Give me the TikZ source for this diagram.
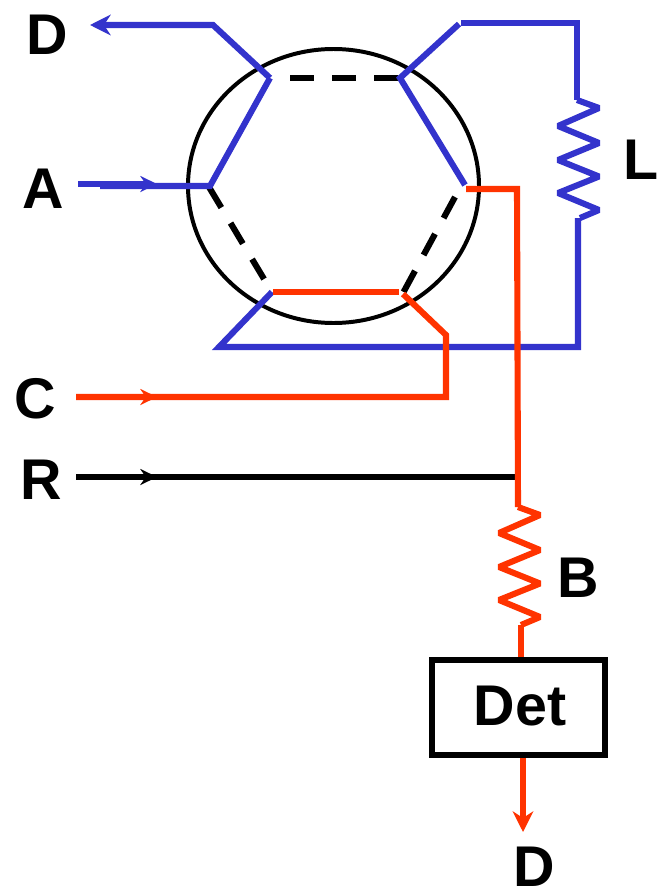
\documentclass[tikz,border=0pt]{standalone}
\usepackage{fontspec}
\setmainfont{Liberation Sans}
\usetikzlibrary{arrows.meta}
\definecolor{loopblue}{HTML}{3333CC}
\definecolor{carrierred}{HTML}{FF3300}
\tikzset{
  bluewire/.style={draw=loopblue,line width=5.2pt},
  redwire/.style={draw=carrierred,line width=5.2pt},
  blackwire/.style={draw=black,line width=4.4pt},
  portdash/.style={draw=black,line width=5.2pt,dash pattern=on 0.72cm off 0.54cm},
  coil/.style={line join=bevel},
  midtip/.style={-{Stealth[length=0.5cm,width=0.48cm,inset=0.16cm]}},
  endtip/.style={-{Stealth[length=0.62cm,width=0.62cm,inset=0.2cm]}},
  lab/.style={font=\fontsize{49}{49}\selectfont\bfseries,inner sep=0pt},
  detbox/.style={draw=black,line width=4.8pt,fill=white,minimum width=5.2cm,minimum height=2.86cm,inner sep=0pt},
}
\newcommand{\coilpath}{-- ++(0.66,-0.24) -- ++(-1.23,-0.54) -- ++(1.23,-0.51) -- ++(-1.23,-0.51) -- ++(1.23,-0.495) -- ++(-1.23,-0.495) -- ++(1.23,-0.51) -- ++(-0.57,-0.24)}
\begin{document}
\begin{tikzpicture}
\useasboundingbox (0,0) rectangle (19.92,-26.73);
% valve body
\draw[line width=3.4pt] (10.005,-5.58) ellipse (4.365 and 4.11);
% ports
\coordinate (p1) at (8.10,-2.34);
\coordinate (p2) at (12.00,-2.34);
\coordinate (p3) at (13.95,-5.55);
\coordinate (p3r) at (13.98,-5.67);
\coordinate (p4r) at (12.09,-8.82);
\coordinate (p4) at (11.97,-8.76);
\coordinate (p5) at (8.19,-8.76);
\coordinate (p5b) at (8.16,-8.76);
\coordinate (p6) at (6.30,-5.58);
% dashed links
\draw[portdash] (8.70,-2.34) -- (11.94,-2.34);
\draw[portdash] (6.27,-5.61) -- (7.92,-8.37);
\draw[portdash] (13.65,-5.91) -- (12.09,-8.79);
% blue side
\coordinate (dout) at (2.70,-0.75);
\coordinate (dbend) at (6.39,-0.75);
\coordinate (ain) at (2.34,-5.52);
\coordinate (amid) at (4.71,-5.52);
\coordinate (ain2) at (3.00,-5.58);
\draw[bluewire,endtip] (p1) -- (dbend) -- (dout);
\draw[bluewire] (p1) -- (p6) -- (ain2);
\draw[bluewire,midtip] (ain) -- (amid);
\coordinate (ltop) at (17.31,-0.69);
\coordinate (ltl) at (13.83,-0.69);
\coordinate (lcoil) at (17.31,-3.00);
\coordinate (lbot) at (17.34,-10.41);
\coordinate (lbl) at (6.57,-10.41);
\draw[bluewire] (p3) -- (p2) -- (13.77,-0.72);
\draw[bluewire] (ltl) -- (ltop) -- (lcoil);
\draw[bluewire,coil] (lcoil) \coilpath coordinate (lout);
\draw[bluewire] (lout -| lbot) -- (lbot) -- (lbl) -- (p5b);
% red side
\coordinate (bline) at (15.51,-5.67);
\coordinate (bcoil) at (15.54,-15.21);
\coordinate (cin) at (2.28,-11.91);
\coordinate (cmid) at (4.71,-11.91);
\coordinate (cbot) at (13.38,-11.91);
\coordinate (cbend) at (13.38,-10.05);
\coordinate (rin) at (2.28,-14.31);
\coordinate (rmid) at (4.71,-14.31);
\coordinate (rend) at (15.45,-14.31);
\coordinate (detout) at (15.69,-24.96);
\draw[redwire] (p5) -- (p4);
\draw[redwire] (p4r) -- (cbend) -- (cbot) -- (cin);
\draw[redwire,midtip] (cin) -- (cmid);
\draw[blackwire] (rin) -- (rend);
\draw[blackwire,midtip] (rin) -- (rmid);
\draw[redwire] (p3r) -- (bline) -- (bcoil);
\draw[redwire,coil] (bcoil) \coilpath coordinate (bout);
\node[detbox] (det) at (15.555,-21.225) {};
\draw[redwire] (bout) -- (bout |- det.north);
\draw[redwire,endtip] (detout |- det.south) -- (detout);
% labels
\node[lab] (det text) at (15.60,-21.18) {Det};
\node[lab] (d top) at (1.41,-1.05) {D};
\node[lab] (a label) at (1.29,-5.67) {A};
\node[lab] (l label) at (19.23,-4.80) {L};
\node[lab] (c label) at (1.05,-11.97) {C};
\node[lab] (r label) at (1.23,-14.40) {R};
\node[lab] (b label) at (17.34,-17.34) {B};
\node[lab] (d bottom) at (16.02,-26.00) {D};
\end{tikzpicture}
\end{document}
